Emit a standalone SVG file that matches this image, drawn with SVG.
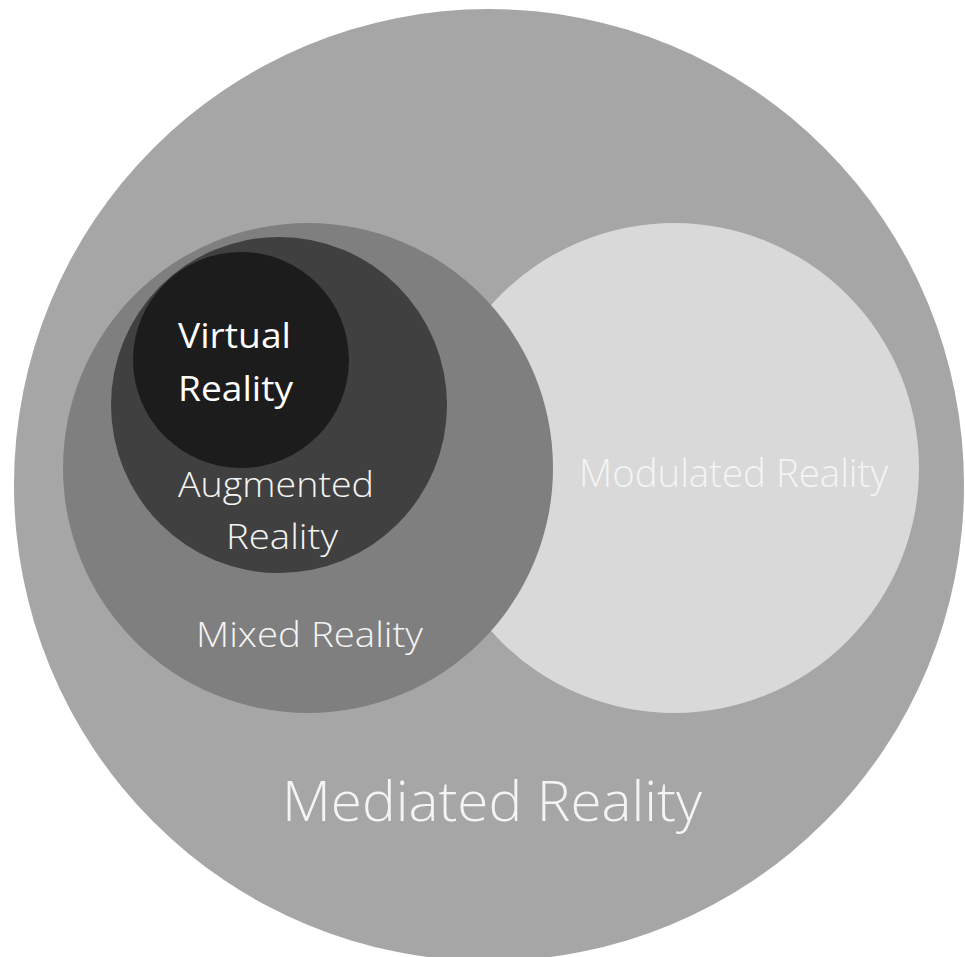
<svg xmlns="http://www.w3.org/2000/svg" width="965" height="957" viewBox="0 0 965 957">
<style>
  .lbl { font-family: "Open Sans", "Noto Sans", "Liberation Sans", sans-serif; font-weight: 300; fill: #f4f4f4; }
  .vr { font-family: "Open Sans", "Noto Sans", "Liberation Sans", sans-serif; font-weight: 400; fill: #ffffff; }
</style>
<rect x="0" y="0" width="965" height="957" fill="#ffffff"/>
<g id="mediated">
  <ellipse cx="489" cy="485" rx="475" ry="476" fill="#a6a6a6"/>
  <text class="lbl" x="282" y="821" font-size="56" textLength="420" lengthAdjust="spacingAndGlyphs">Mediated Reality</text>
</g>
<g id="modulated">
  <circle cx="674" cy="468" r="245" fill="#d9d9d9"/>
  <text class="lbl" x="579" y="487" font-size="38" textLength="309" lengthAdjust="spacingAndGlyphs" fill="#ffffff">Modulated Reality</text>
</g>
<g id="mixed">
  <circle cx="308" cy="468" r="245" fill="#7f7f7f"/>
  <text class="lbl" x="196" y="647" font-size="34" textLength="227" lengthAdjust="spacingAndGlyphs">Mixed Reality</text>
</g>
<g id="augmented">
  <circle cx="279" cy="405" r="168" fill="#404040"/>
  <text class="lbl" x="178" y="497" font-size="35" textLength="196" lengthAdjust="spacingAndGlyphs">Augmented</text>
  <text class="lbl" x="226" y="549" font-size="35" textLength="112" lengthAdjust="spacingAndGlyphs">Reality</text>
</g>
<g id="virtual">
  <circle cx="241" cy="360" r="108" fill="#1c1c1c"/>
  <text class="vr" x="178" y="348" font-size="35" textLength="113" lengthAdjust="spacingAndGlyphs">Virtual</text>
  <text class="vr" x="178" y="401" font-size="35" textLength="115" lengthAdjust="spacingAndGlyphs">Reality</text>
</g>
<g id="connectors"></g>
</svg>
